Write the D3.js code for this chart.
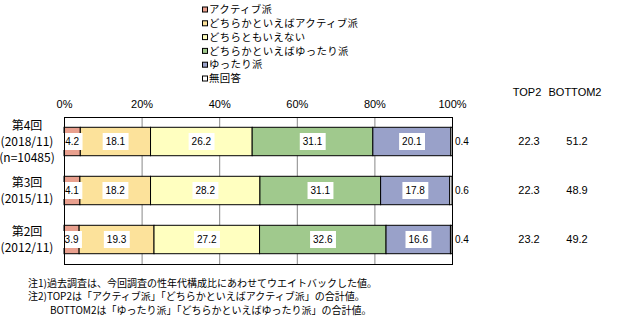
<!DOCTYPE html>
<html>
<head>
<meta charset="utf-8">
<script src="https://cdn.jsdelivr.net/npm/d3@7/dist/d3.min.js"></script>
<style>
  html, body { margin: 0; padding: 0; background: #fff; }
  svg { display: block; }
  text { font-family: "Noto Sans CJK JP", "Noto Sans", sans-serif; fill: #000; }
  .num { font-family: "Liberation Sans", Arial, sans-serif; }
</style>
</head>
<body>
<script>
// Survey waves (top to bottom) and their label lines
const waves = ["第4回", "第3回", "第2回"];
const waveLines = [
  ["第4回", "(2018/11)", "(n=10485)"],
  ["第3回", "(2015/11)"],
  ["第2回", "(2012/11)"]
];

// Answer categories, in stacking order
const categories = [
  "アクティブ派",
  "どちらかといえばアクティブ派",
  "どちらともいえない",
  "どちらかといえばゆったり派",
  "ゆったり派",
  "無回答"
];
const colors = ["#E9A08E", "#FCE29B", "#FFFFC0", "#A0C98D", "#99A1C9", "#FFFFFF"];

// Percentages per wave, one array per category
const active       = [4.2, 4.1, 3.9];
const ratherActive = [18.1, 18.2, 19.3];
const neither      = [26.2, 28.2, 27.2];
const ratherRelax  = [31.1, 31.1, 32.6];
const relaxed      = [20.1, 17.8, 16.6];
const noAnswer     = [0.4, 0.6, 0.4];
const series = [active, ratherActive, neither, ratherRelax, relaxed, noAnswer];

const tickValues = [0, 20, 40, 60, 80, 100];

const notes = [
  "注1)過去調査は、今回調査の性年代構成比にあわせてウエイトバックした値。",
  "注2)TOP2は「アクティブ派」「どちらかといえばアクティブ派」の合計値。",
  "BOTTOM2は「ゆったり派」「どちらかといえばゆったり派」の合計値。"
];

const W = 619, H = 323;
const svg = d3.select("body").append("svg").attr("width", W).attr("height", H);

const x = d3.scaleLinear().domain([0, 100]).range([64, 452]);
const y = d3.scaleBand().domain(waves).range([117, 264]).paddingInner(0.42).paddingOuter(0.21);

// Legend
const legend = svg.append("g");
categories.forEach((c, i) => {
  const ly = 9.5 + i * 13.8;
  legend.append("rect").attr("x", 202.5).attr("y", ly - 2.5).attr("width", 5).attr("height", 5)
    .attr("fill", colors[i]).attr("stroke", "#000").attr("stroke-width", 1);
  legend.append("text").attr("x", 209).attr("y", ly).attr("dy", "0.35em")
    .attr("font-size", 10.4).attr("letter-spacing", 0.35).text(c);
});

// Gridlines
svg.append("g").selectAll("line").data([20, 40, 60, 80]).join("line")
  .attr("x1", d => x(d) + 0.5).attr("x2", d => x(d) + 0.5)
  .attr("y1", 117).attr("y2", 264)
  .attr("stroke", "#888").attr("stroke-width", 1);

// Top axis labels
const axis = d3.axisTop(x).tickValues(tickValues).tickFormat(d => d + "%").tickSize(0).tickPadding(0);
const ag = svg.append("g").attr("transform", "translate(0,108)").call(axis);
ag.select(".domain").remove();
ag.selectAll("text").attr("class", "num").attr("font-size", 11).attr("fill", "#000").attr("dy", 0);

// Stacked bars
waves.forEach((w, wi) => {
  let cum = 0;
  const g = svg.append("g");
  series.forEach((s, si) => {
    const v = s[wi];
    const x0 = x(cum), x1 = x(cum + v);
    g.append("rect")
      .attr("x", x0).attr("y", y(w))
      .attr("width", x1 - x0).attr("height", y.bandwidth())
      .attr("fill", colors[si]).attr("stroke", "#000").attr("stroke-width", 1);
    cum += v;
  });
  // Value labels
  cum = 0;
  series.forEach((s, si) => {
    const v = s[wi];
    const cy = y(w) + y.bandwidth() / 2;
    if (si === series.length - 1) {
      g.append("text").attr("class", "num").attr("x", x(100) + 3).attr("y", cy)
        .attr("dy", "0.35em").attr("font-size", 10).text(v.toFixed(1));
    } else {
      const cx = x(cum + v / 2);
      const t = g.append("text").attr("class", "num").attr("x", cx).attr("y", cy)
        .attr("dy", "0.35em").attr("text-anchor", "middle").attr("font-size", 10)
        .text(v.toFixed(1));
      const bb = t.node().getBBox();
      g.insert("rect", function () { return t.node(); })
        .attr("x", bb.x - 3).attr("y", cy - 8.5)
        .attr("width", bb.width + 6).attr("height", 17).attr("fill", "#fff");
    }
    cum += v;
  });
});

// Plot frame
svg.append("rect").attr("x", 64.5).attr("y", 117.5).attr("width", x(100) - x(0)).attr("height", 147)
  .attr("fill", "none").attr("stroke", "#000").attr("stroke-width", 1);

// Wave labels on the left
waveLines.forEach((lines, wi) => {
  const cy = y(waves[wi]) + y.bandwidth() / 2;
  const step = 16;
  const start = cy - (lines.length - 1) * step / 2;
  lines.forEach((l, li) => {
    svg.append("text").attr("x", 27).attr("y", start + li * step).attr("dy", "0.35em")
      .attr("text-anchor", "middle").attr("font-size", 12).text(l);
  });
});

// TOP2 / BOTTOM2 columns
const top2 = waves.map((w, i) => active[i] + ratherActive[i]);
const bottom2 = waves.map((w, i) => ratherRelax[i] + relaxed[i]);
svg.append("text").attr("class", "num").attr("x", 527).attr("y", 92).attr("dy", "0.35em")
  .attr("text-anchor", "middle").attr("font-size", 11).text("TOP2");
svg.append("text").attr("class", "num").attr("x", 575).attr("y", 92).attr("dy", "0.35em")
  .attr("text-anchor", "middle").attr("font-size", 11).text("BOTTOM2");
waves.forEach((w, i) => {
  const cy = y(w) + y.bandwidth() / 2;
  svg.append("text").attr("class", "num").attr("x", 529).attr("y", cy).attr("dy", "0.35em")
    .attr("text-anchor", "middle").attr("font-size", 11).text(top2[i].toFixed(1));
  svg.append("text").attr("class", "num").attr("x", 577).attr("y", cy).attr("dy", "0.35em")
    .attr("text-anchor", "middle").attr("font-size", 11).text(bottom2[i].toFixed(1));
});

// Footnotes
notes.forEach((n, i) => {
  svg.append("text").attr("x", i === 2 ? 50 : 28).attr("y", 283 + i * 13.5).attr("dy", "0.35em")
    .attr("font-size", 10).text(n);
});
</script>
</body>
</html>
